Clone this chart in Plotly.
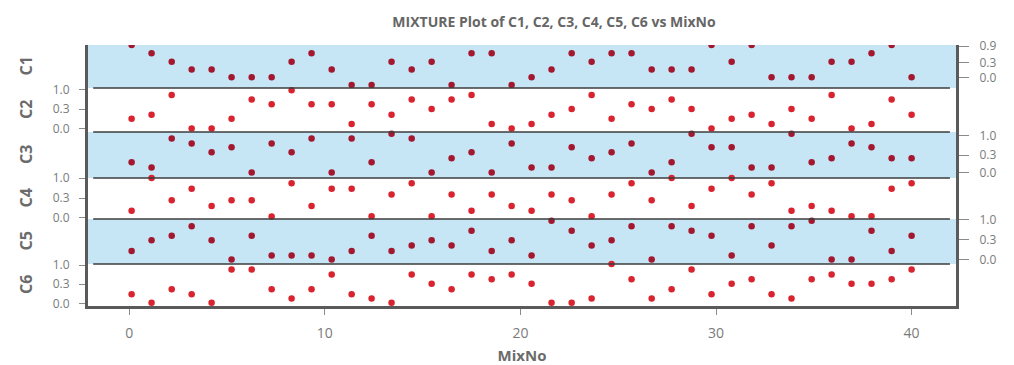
import plotly.graph_objects as go

# ---------------- data ----------------
mixno = [0.12, 1.14, 2.17, 3.19, 4.21, 5.23, 6.26, 7.28, 8.30, 9.32,
         10.35, 11.37, 12.39, 13.41, 14.44, 15.46, 16.48, 17.50, 18.53, 19.55,
         20.57, 21.59, 22.62, 23.64, 24.66, 25.68, 26.71, 27.73, 28.75, 29.77,
         30.80, 31.82, 32.84, 33.86, 34.89, 35.91, 36.93, 37.95, 38.98, 40.00]

c1 = [1.00, 0.81, 0.61, 0.43, 0.43, 0.25, 0.25, 0.25, 0.61, 0.81,
      0.43, 0.07, 0.07, 0.61, 0.43, 0.61, 0.07, 0.81, 0.81, 0.07,
      0.25, 0.43, 0.81, 0.61, 0.81, 0.81, 0.43, 0.43, 0.43, 1.00,
      0.61, 1.00, 0.25, 0.25, 0.25, 0.61, 0.61, 0.81, 1.00, 0.25]

c2 = [0.30, 0.39, 0.84, 0.08, 0.08, 0.30, 0.74, 0.63, 0.95, 0.63,
      0.63, 0.18, 0.63, 0.39, 0.74, 0.52, 0.74, 0.84, 0.18, 0.08,
      0.18, 0.39, 0.52, 0.84, 0.30, 0.63, 0.52, 0.74, 0.52, 0.08,
      0.30, 0.39, 0.18, 0.52, 0.30, 0.84, 0.08, 0.18, 0.74, 0.39]

c3 = [0.34, 0.23, 0.86, 0.75, 0.56, 0.67, 0.12, 0.75, 0.56, 0.86,
      0.12, 0.86, 0.34, 0.96, 0.86, 0.12, 0.43, 0.56, 0.12, 0.75,
      0.23, 0.23, 0.67, 0.43, 0.56, 0.75, 0.12, 0.34, 0.96, 0.67,
      0.67, 0.23, 0.23, 0.96, 0.34, 0.43, 0.75, 0.67, 0.43, 0.43]

c4 = [0.20, 1.00, 0.46, 0.74, 0.32, 0.46, 0.46, 0.06, 0.87, 0.32,
      0.74, 0.74, 0.07, 0.60, 0.87, 0.07, 0.60, 0.20, 0.60, 0.32,
      0.20, 0.60, 0.46, 0.07, 0.60, 0.87, 0.46, 1.00, 0.32, 0.74,
      1.00, 0.60, 0.87, 0.20, 0.32, 0.20, 0.07, 0.07, 0.74, 0.87]

c5 = [0.29, 0.53, 0.63, 0.84, 0.53, 0.10, 0.63, 0.19, 0.19, 0.19,
      0.10, 0.29, 0.63, 0.29, 0.41, 0.53, 0.41, 0.74, 0.29, 0.53,
      0.19, 0.96, 0.74, 0.41, 0.53, 0.84, 0.10, 0.84, 0.74, 0.63,
      0.19, 0.84, 0.41, 0.84, 0.96, 0.10, 0.10, 0.74, 0.29, 0.63]

c6 = [0.28, 0.08, 0.40, 0.28, 0.08, 0.87, 0.87, 0.40, 0.18, 0.40,
      0.75, 0.28, 0.18, 0.08, 0.75, 0.53, 0.40, 0.75, 0.64, 0.75,
      0.53, 0.08, 0.08, 0.18, 1.00, 0.64, 0.18, 0.40, 0.87, 0.28,
      0.53, 0.64, 0.28, 0.18, 0.64, 0.75, 0.53, 0.53, 0.64, 0.87]

names = ["C1", "C2", "C3", "C4", "C5", "C6"]
series = [c1, c2, c3, c4, c5, c6]

ticklabels = [["0.9", "0.3", "0.0"],
              ["1.0", "0.3", "0.0"],
              ["1.0", "0.3", "0.0"],
              ["1.0", "0.3", "0.0"],
              ["1.0", "0.3", "0.0"],
              ["1.0", "0.3", "0.0"]]
xticks = [0, 10, 20, 30, 40]

# ---------------- layout helpers ----------------
tick_pos = [[0.97, 0.59, 0.24],
            [0.955, 0.52, 0.07],
            [0.913, 0.50, 0.115],
            [0.995, 0.51, 0.04],
            [0.978, 0.548, 0.089],
            [0.976, 0.517, 0.06]]
domains = [[0.8352, 1.0], [0.6667, 0.8352], [0.4904, 0.6667],
           [0.3333, 0.4904], [0.1609, 0.3333], [0.0, 0.1609]]
blue = "#c6e6f6"
AX = "#5a5a5a"
TXT = "#7a7a7a"
FONT = "Open Sans"

fig = go.Figure()
for i, (nm, vals) in enumerate(zip(names, series)):
    yref = "y" if i == 0 else f"y{i+1}"
    fig.add_trace(go.Scatter(
        x=mixno, y=vals, mode="markers", name=nm, xaxis="x", yaxis=yref,
        cliponaxis=(i == 0),
        marker=dict(size=6.5, color="#a3182f" if i % 2 == 0 else "#d9232f",
                    line=dict(width=0)),
        showlegend=False))

layout = dict(
    width=1014, height=365, autosize=False,
    margin=dict(l=88, r=58, t=45, b=59, pad=0),
    paper_bgcolor="white", plot_bgcolor="white",
    font=dict(family=FONT, color=TXT, size=13),
    title=dict(text="<b>MIXTURE Plot of C1, C2, C3, C4, C5, C6 vs MixNo</b>",
               x=554 / 1014, xanchor="center", y=1 - 22 / 365, yanchor="middle",
               font=dict(family=FONT, size=14, color="#666666")),
    xaxis=dict(domain=[0, 1], anchor="y6", range=[-2.11, 42.27],
               automargin=False,
               showgrid=False, zeroline=False, showline=True, linewidth=3,
               linecolor=AX, ticks="outside", ticklen=6, tickwidth=1,
               tickcolor="#8a8a8a", tickvals=xticks,
               ticktext=[str(v) for v in xticks],
               tickfont=dict(family=FONT, size=14, color=TXT),
               ticklabelstandoff=6,
               title=dict(text="<b>MixNo</b>", standoff=12,
                          font=dict(family=FONT, size=15, color="#6b6b6b"))),
)
for i in range(6):
    key = "yaxis" if i == 0 else f"yaxis{i+1}"
    right = (i % 2 == 0)
    layout[key] = dict(
        domain=domains[i], anchor="x", range=[0, 1], automargin=False,
        side="right" if right else "left",
        showgrid=False, zeroline=False, showline=True, mirror=True,
        linewidth=3, linecolor=AX,
        ticks="outside", ticklen=(10 if right else 6), tickwidth=1,
        tickcolor="#8a8a8a",
        tickvals=tick_pos[i], ticktext=ticklabels[i],
        tickfont=dict(family=FONT, size=12, color=TXT),
        ticklabelstandoff=(8 if right else 7),
    )
fig.update_layout(**layout)

# panel backgrounds
for i in (0, 2, 4):
    yr = "y" if i == 0 else f"y{i+1}"
    fig.add_shape(type="rect", xref="paper", yref=f"{yr} domain",
                  x0=0, x1=1, y0=0, y1=1, fillcolor=blue,
                  line=dict(width=0), layer="below")

# panel separators
for d in domains[:-1]:
    fig.add_shape(type="line", xref="paper", yref="paper",
                  x0=0.006, x1=0.993, y0=d[0], y1=d[0],
                  line=dict(color="#3c3c3c", width=1.5))

# panel labels
for i, nm in enumerate(names):
    yc = (domains[i][0] + domains[i][1]) / 2
    fig.add_annotation(text=f"<b>{nm}</b>", xref="paper", yref="paper",
                       x=(26 - 88) / 868, y=yc, textangle=-90,
                       showarrow=False, xanchor="center", yanchor="middle",
                       font=dict(family=FONT, size=16, color="#6b6b6b"))

fig.write_html("out.html")
